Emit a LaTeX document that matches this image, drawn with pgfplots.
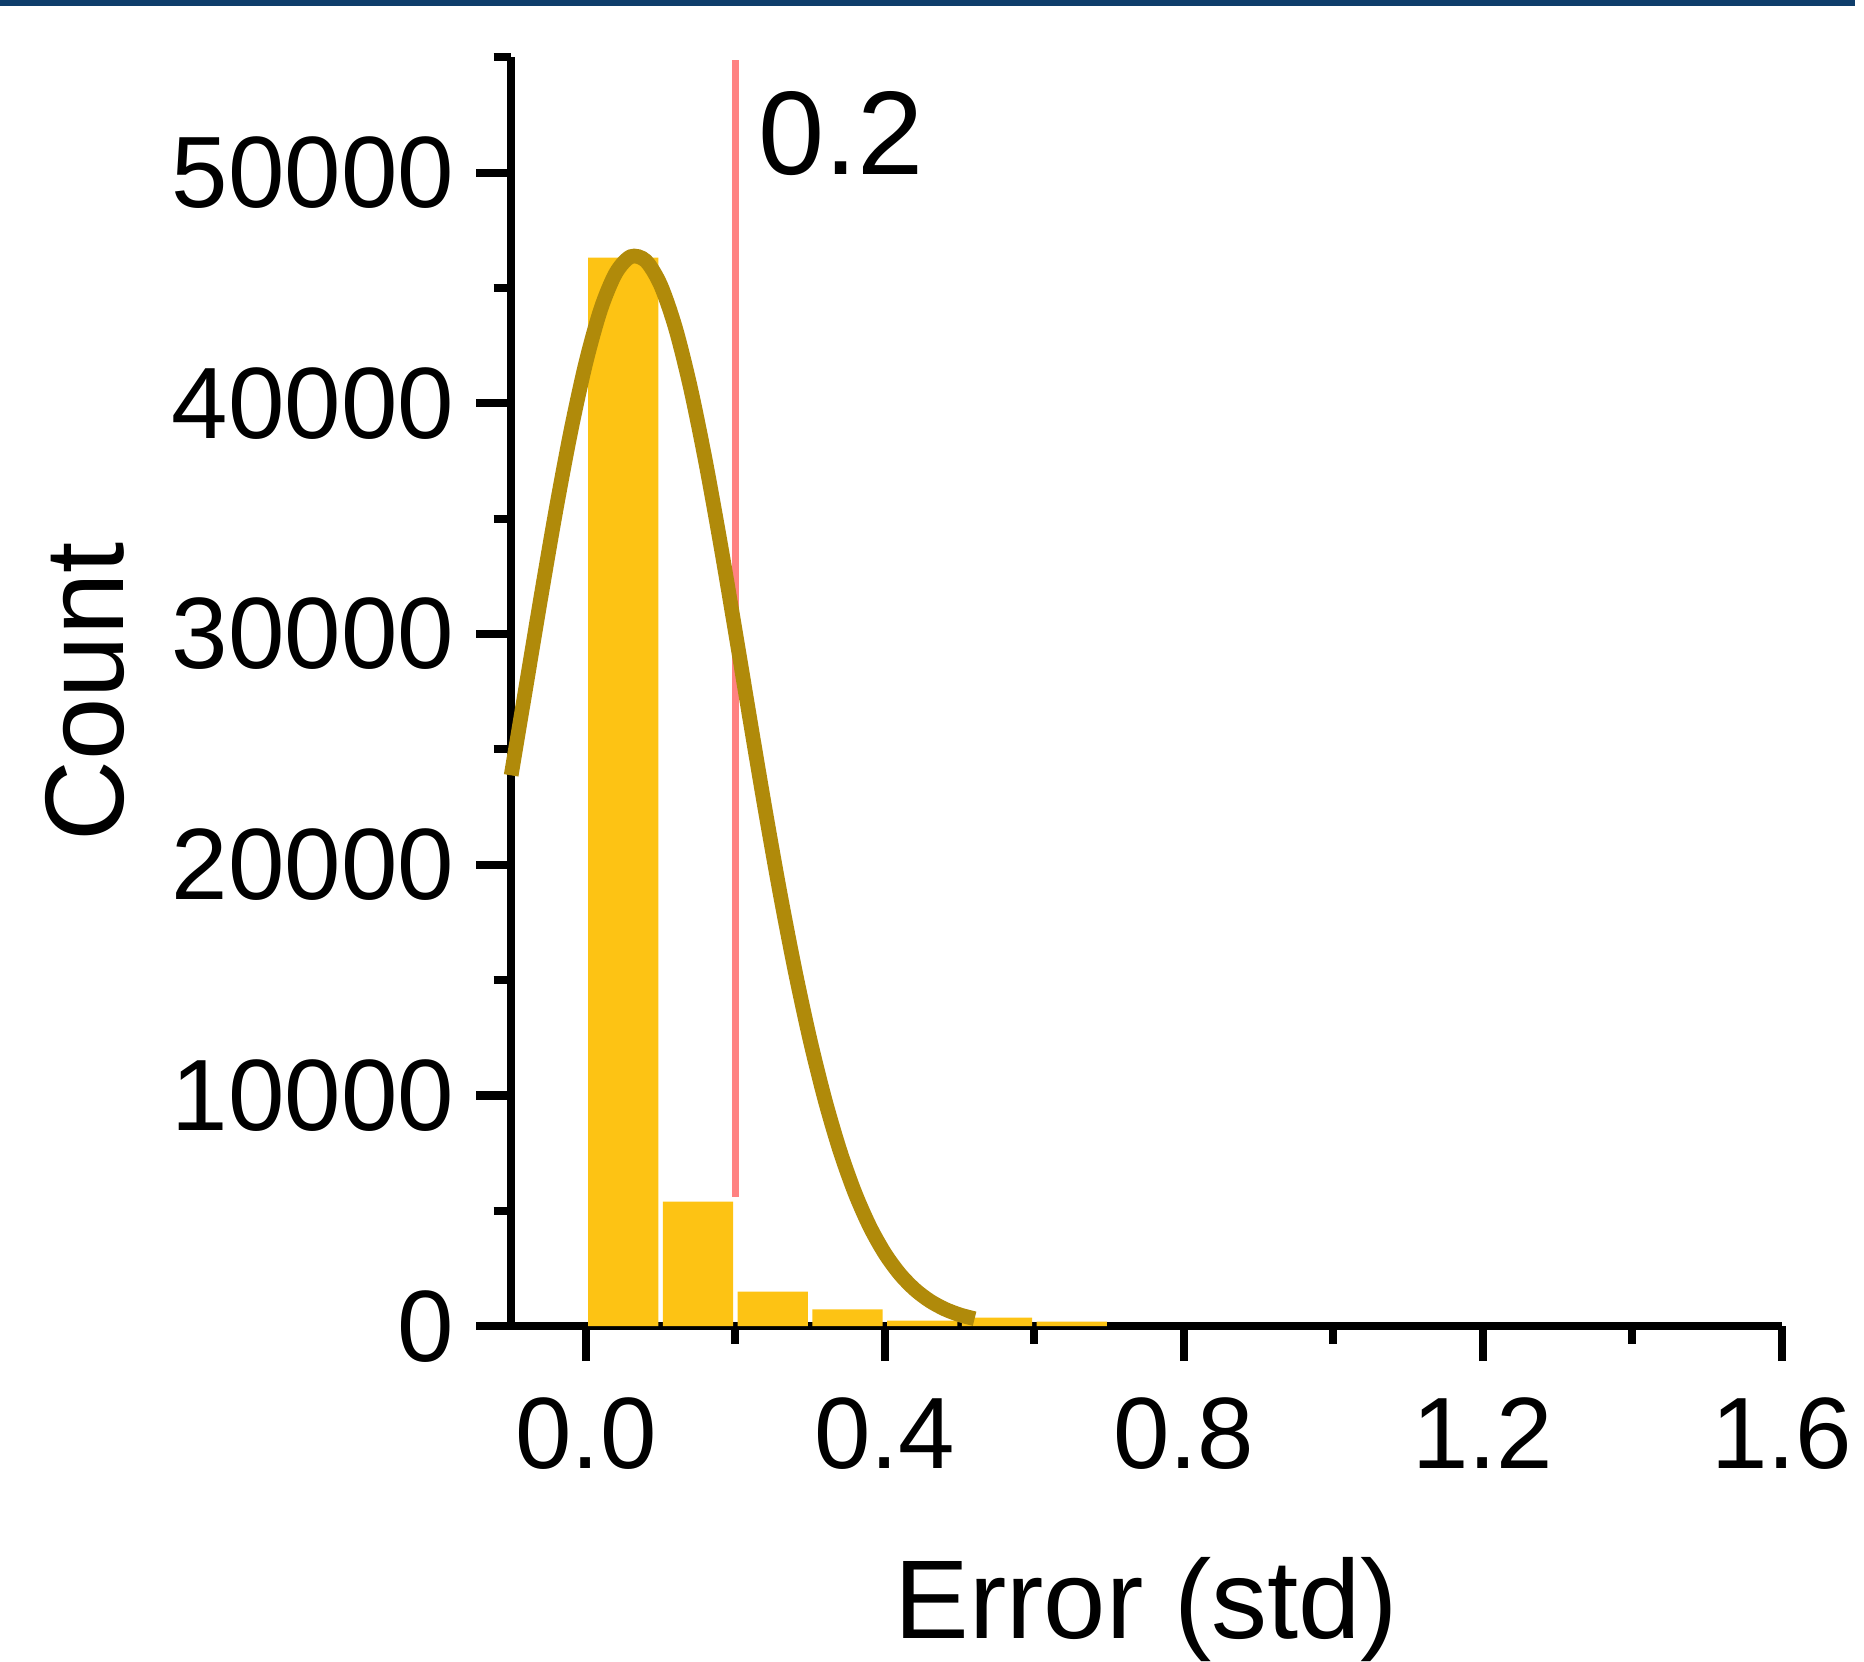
\documentclass[border=0pt]{standalone}
\usepackage{pgfplots}
\pgfplotsset{compat=1.18}
\usepackage{fontspec}
\setmainfont{Liberation Sans}
\definecolor{barY}{HTML}{FDC314}
\definecolor{fitC}{HTML}{B08A0A}
\definecolor{refR}{HTML}{FF8282}
\definecolor{navy}{HTML}{0E3D6B}

\begin{document}
\begin{tikzpicture}
\begin{axis}[
  name=ax,
  scale only axis,
  width=12.767cm, height=12.749cm,
  xmin=-0.1, xmax=1.6, ymin=0, ymax=55000,
  axis x line*=bottom, axis y line*=left,
  axis line style={line width=2.4pt},
  xtick={0,0.4,0.8,1.2,1.6}, minor xtick={0.2,0.6,1.0,1.4},
  ytick={0,10000,...,50000}, minor ytick={5000,15000,...,55000},
  tick align=outside,
  major tick length=0.35cm, minor tick length=0.175cm,
  every tick/.style={black, line width=2.3pt},
  scaled y ticks=false,
  /pgf/number format/assume math mode=true,
  tick label style={font=\fontsize{29}{32}\selectfont},
  yticklabel style={xshift=-0.1cm, /pgf/number format/set thousands separator={}},
  xticklabel style={yshift=-0.24cm, /pgf/number format/.cd, fixed, fixed zerofill, precision=1},
  xlabel={Error (std)}, ylabel={Count},
  label style={font=\fontsize{32}{38}\selectfont},
  xlabel style={at={(axis description cs:0.5,0)}, anchor=base, inner sep=0pt, yshift=-3.135cm},
  ylabel style={at={([xshift=-4.28cm]axis description cs:0,0.5)}, anchor=center, inner sep=0pt},
  clip=false,
]
% histogram, bin width 0.1
\addplot[ybar, bar width=0.094, fill=barY, draw=none]
  coordinates {(0.05,46320) (0.15,5400) (0.25,1500) (0.35,730) (0.45,240) (0.55,370) (0.65,200)};
% threshold
\addplot[refR, line width=1.8pt] coordinates {(0.2,5620) (0.2,54900)};
% fitted curve
\addplot[fitC, line width=4.2pt, smooth] coordinates {
  (-0.10,23877) (-0.08,27752) (-0.06,31640) (-0.04,35390) (-0.02,38823)
  (0.00,41774) (0.02,44094) (0.04,45648) (0.06,46360) (0.08,46182)
  (0.10,45124) (0.12,43250) (0.14,40661) (0.16,37496) (0.18,33918)
  (0.20,30095) (0.22,26193) (0.24,22360) (0.26,18722) (0.28,15382)
  (0.30,12393) (0.32,9795) (0.34,7591) (0.36,5772) (0.38,4305)
  (0.40,3150) (0.42,2261) (0.44,1592) (0.46,1099) (0.48,744)
  (0.50,495) (0.52,322)};
\node[anchor=base west, inner sep=0pt, font=\fontsize{34}{40}\selectfont]
  at (axis cs:0.2295,49900) {0.2};
% x axis line runs past the y axis
\draw[line width=2.4pt] (axis cs:-0.1,0) -- ++(-0.345cm,0);
\end{axis}
\path[use as bounding box] ([xshift=-5.136cm,yshift=-3.295cm]ax.south west)
  rectangle ([xshift=13.504cm,yshift=13.325cm]ax.south west);
\fill[navy] ([xshift=-5.136cm,yshift=13.265cm]ax.south west)
  rectangle ([xshift=13.504cm,yshift=13.325cm]ax.south west);
\end{tikzpicture}
\end{document}
